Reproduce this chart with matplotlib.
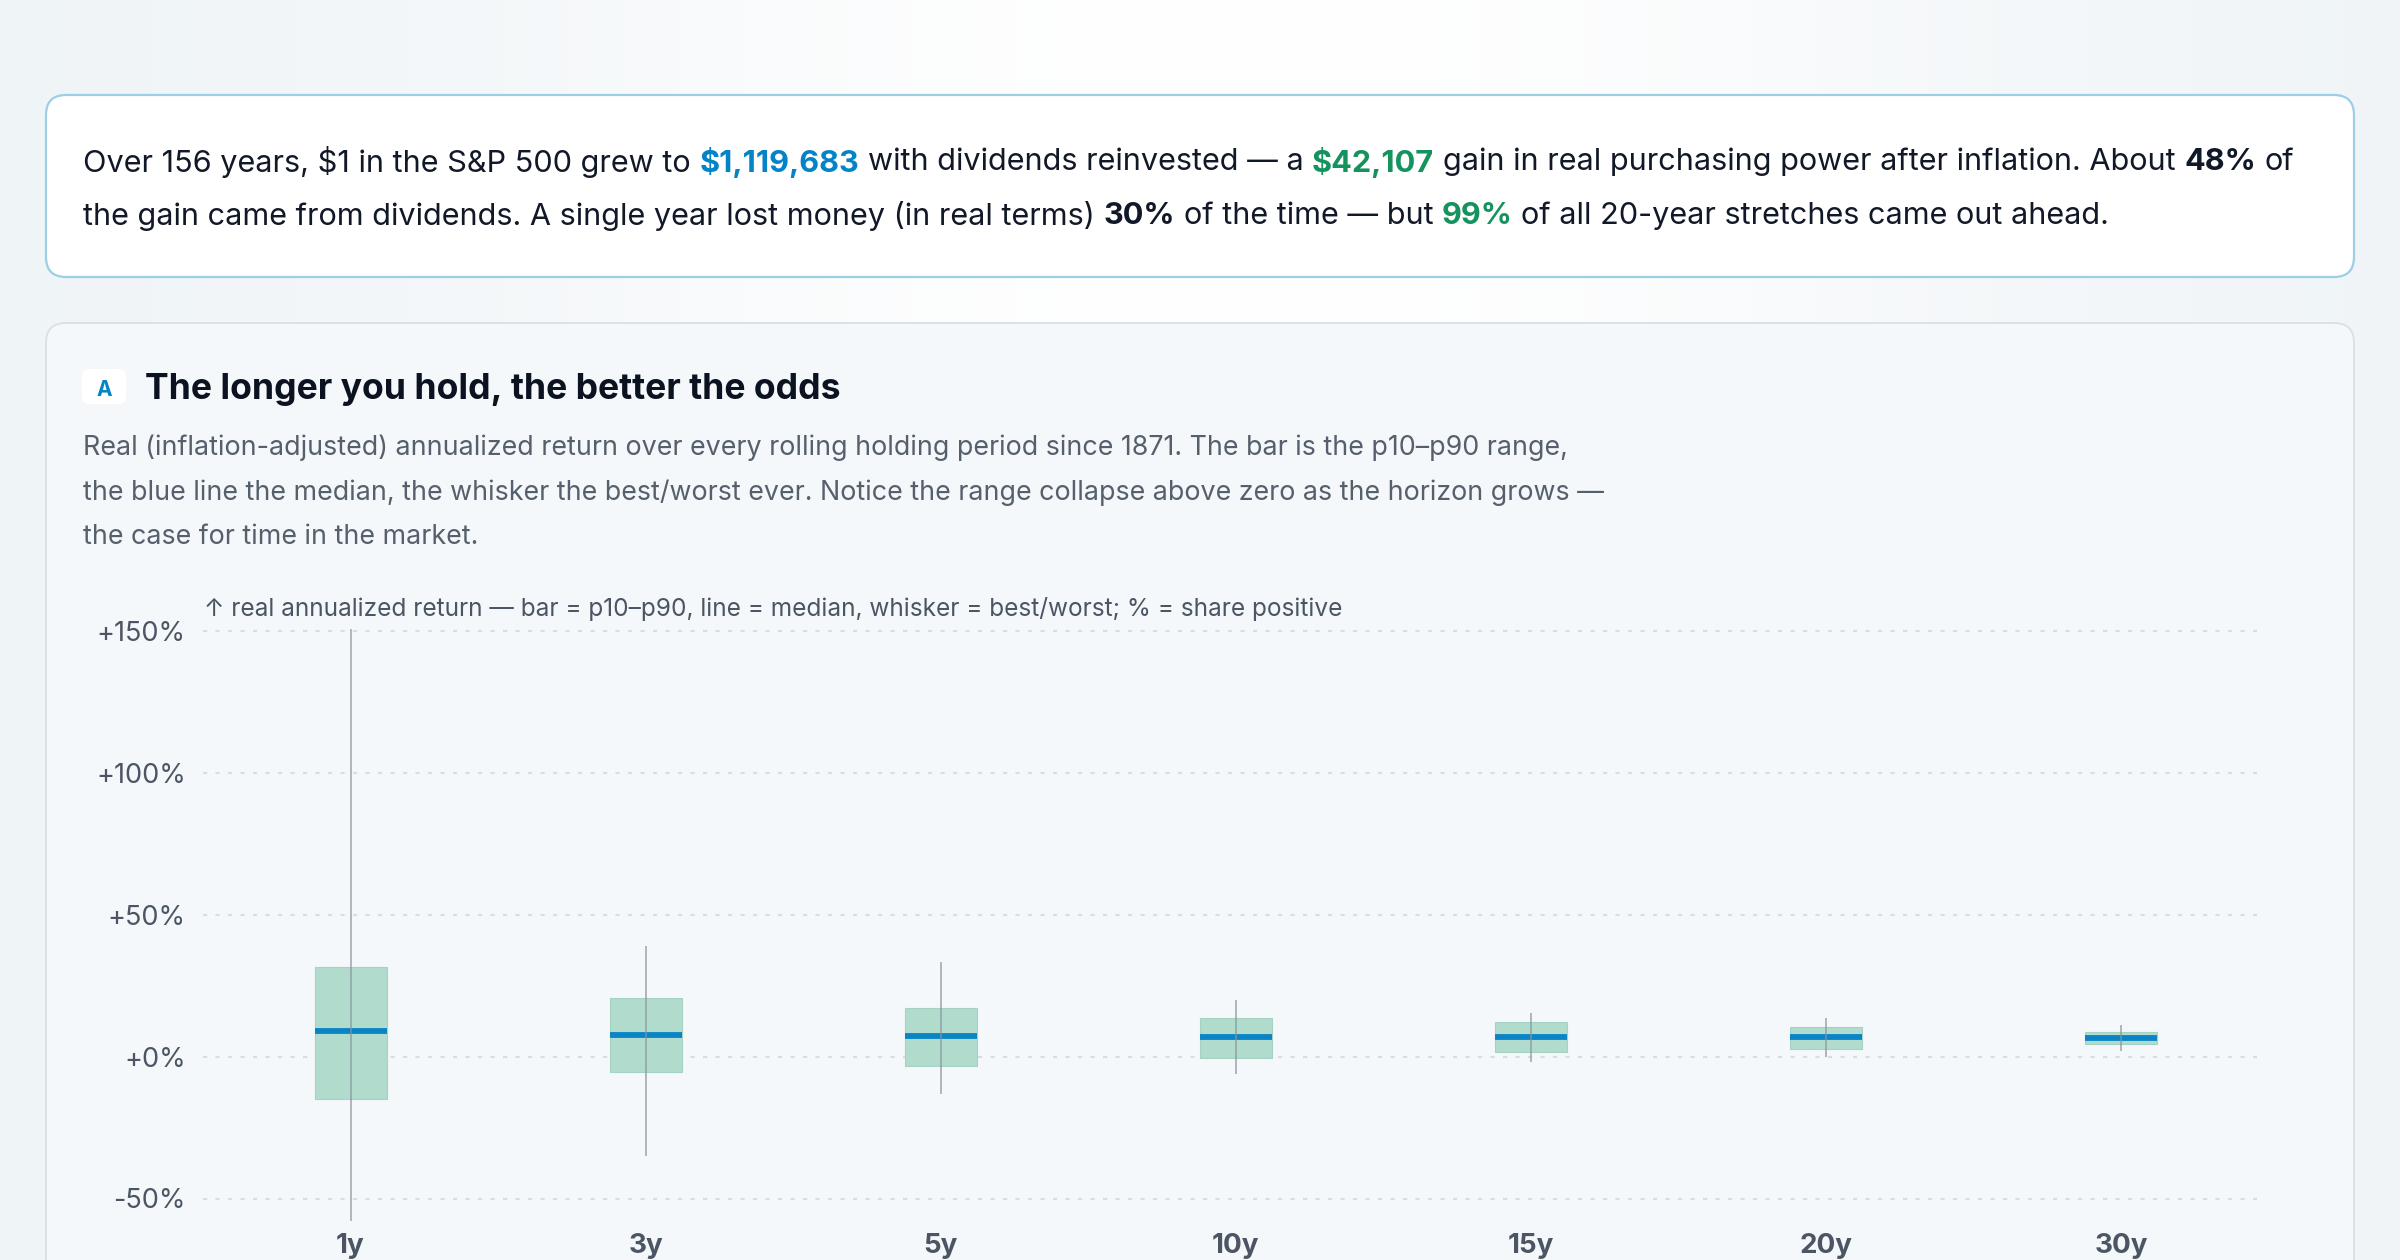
import matplotlib.pyplot as plt
import numpy as np
from matplotlib.patches import FancyBboxPatch

plt.rcParams['font.family'] = ['Inter', 'DejaVu Sans']

# data: real annualized return by holding period (%)
horizons = ['1y', '3y', '5y', '10y', '15y', '20y', '30y']
worst = [-58.0, -35.1, -13.3, -6.0, -2.1, -0.2, 1.8]
p10 = [-15.0, -5.3, -3.2, -0.6, 1.5, 2.6, 4.5]
median = [8.9, 7.6, 7.3, 6.9, 6.8, 6.8, 6.6]
p90 = [31.5, 20.5, 17.2, 13.6, 12.0, 10.5, 8.6]
best = [150.7, 38.9, 33.3, 19.8, 15.4, 13.5, 11.2]
y_ticks = [-50, 0, 50, 100, 150]

DARK = '#111827'
GREY = '#4b5563'
BLUE = '#0284c7'
GREEN = '#15935f'

W, H = 2400, 1260
fig = plt.figure(figsize=(24, 12.6), dpi=100)

# background axes in pixel coords (y down)
bg = fig.add_axes([0, 0, 1, 1], zorder=0)
bg.set_xlim(0, W)
bg.set_ylim(H, 0)
bg.axis('off')

xx = np.linspace(0, 1, 300)
glow = np.exp(-((xx - 0.52) / 0.32) ** 2)
c_edge = np.array([0.935, 0.955, 0.967])
grad = c_edge[None, :] + (1 - c_edge[None, :]) * glow[:, None]
bg.imshow(grad[None, :, :], extent=(0, W, H, 0), aspect='auto', zorder=0)

# summary card
bg.add_patch(FancyBboxPatch((46, 95), 2308, 182, boxstyle='round,pad=0,rounding_size=20',
                            fc='white', ec='#9ccfe6', lw=1.6, zorder=1))
# chart card
bg.add_patch(FancyBboxPatch((46, 323), 2308, 1000, boxstyle='round,pad=0,rounding_size=20',
                            fc='#f5f8fb', ec='#d8dfe6', lw=1.3, zorder=1))

r = fig.canvas.get_renderer()


def text_w(s, size, weight='normal'):
    t = bg.text(0, 0, s, fontsize=size, fontweight=weight, parse_math=False)
    w = t.get_window_extent(r).width
    t.remove()
    return w


def rich_line(x, y, segs, size):
    sp = text_w('a a', size) - text_w('aa', size)
    for s, color, weight in segs:
        t = bg.text(x, y, s, fontsize=size, color=color, fontweight=weight,
                    ha='left', va='center', parse_math=False, zorder=3)
        x += t.get_window_extent(r).width + sp


line1 = [('Over 156 years, $1 in the S&P 500 grew to', DARK, 'normal'),
         ('$1,119,683', BLUE, 'bold'),
         ('with dividends reinvested — a', DARK, 'normal'),
         ('$42,107', GREEN, 'bold'),
         ('gain in real purchasing power after inflation. About', DARK, 'normal'),
         ('48%', DARK, 'bold'),
         ('of', DARK, 'normal')]
line2 = [('the gain came from dividends. A single year lost money (in real terms)', DARK, 'normal'),
         ('30%', DARK, 'bold'),
         ('of the time — but', DARK, 'normal'),
         ('99%', GREEN, 'bold'),
         ('of all 20-year stretches came out ahead.', DARK, 'normal')]

# fit summary font so the first line spans like the reference
base = 20
tot = sum(text_w(s, base, wgt) for s, _, wgt in line1) + (len(line1) - 1) * (text_w('a a', base) - text_w('aa', base))
fs = base * 2214 / tot
rich_line(83, 162, line1, fs)
rich_line(83, 216, line2, fs)

# badge + title
bg.add_patch(FancyBboxPatch((82, 369), 44, 35, boxstyle='round,pad=0,rounding_size=7',
                            fc='white', ec='none', zorder=2))
bg.text(104, 390, 'A', fontsize=15, fontweight='bold', color=BLUE, ha='center', va='center', zorder=3)
title = 'The longer you hold, the better the odds'
tfs = 26 * 695 / text_w(title, 26, 'bold')
bg.text(145, 389, title, fontsize=tfs, fontweight='bold', color='#0b1220', ha='left', va='center', zorder=3)

desc = ['Real (inflation-adjusted) annualized return over every rolling holding period since 1871. The bar is the p10–p90 range,',
        'the blue line the median, the whisker the best/worst ever. Notice the range collapse above zero as the horizon grows —',
        'the case for time in the market.']
dfs = 17 * 1483 / text_w(desc[0], 17)
for s, y in zip(desc, [448, 493, 537]):
    bg.text(83, y, s, fontsize=dfs, color='#565f6c', ha='left', va='center', zorder=3)

note = '↑ real annualized return — bar = p10–p90, line = median, whisker = best/worst; % = share positive'
nfs = 16 * 1143 / text_w(note, 16)
bg.text(204, 609, note, fontsize=nfs, color=GREY, ha='left', va='center', zorder=3)

# chart axes
ylo, yhi = -62, 153
px_per = (1198.5 - 630.6) / 200
top_px = 630.6 - (yhi - 150) * px_per
bot_px = 1198.5 + (-50 - ylo) * px_per
left_px, right_px = 203, 2257
ax = fig.add_axes([left_px / W, 1 - bot_px / H, (right_px - left_px) / W, (bot_px - top_px) / H], zorder=2)
ax.set_facecolor('none')
ax.set_xlim(-0.5, 6.46)
ax.set_ylim(ylo, yhi)
for s in ax.spines.values():
    s.set_visible(False)

x = np.arange(len(horizons))
bw = 0.244
for yt in y_ticks:
    ax.axhline(yt, color='#d9dde1', lw=1.5, ls=(0, (2, 4)), zorder=1)

ax.bar(x, np.array(p90) - np.array(p10), bottom=p10, width=bw, color='#b1dbcd',
       edgecolor='#a6d2c4', lw=0.8, zorder=2)
ax.hlines(median, x - bw / 2, x + bw / 2, color='#0a84c6', lw=4.2, zorder=3)
ax.vlines(x, worst, best, color='#8a939c', lw=1.3, alpha=0.7, zorder=4)

ax.set_xticks(x)
ax.set_xticklabels(horizons, fontsize=20, fontweight='bold', color=GREY)
ax.set_yticks(y_ticks)
ax.set_yticklabels([f'{v:+d}%' for v in y_ticks], fontsize=19.5, color=GREY)
ax.tick_params(axis='both', length=0)
ax.tick_params(axis='y', pad=12.5)
ax.tick_params(axis='x', pad=0)

fig.savefig('out.png', dpi=100)
